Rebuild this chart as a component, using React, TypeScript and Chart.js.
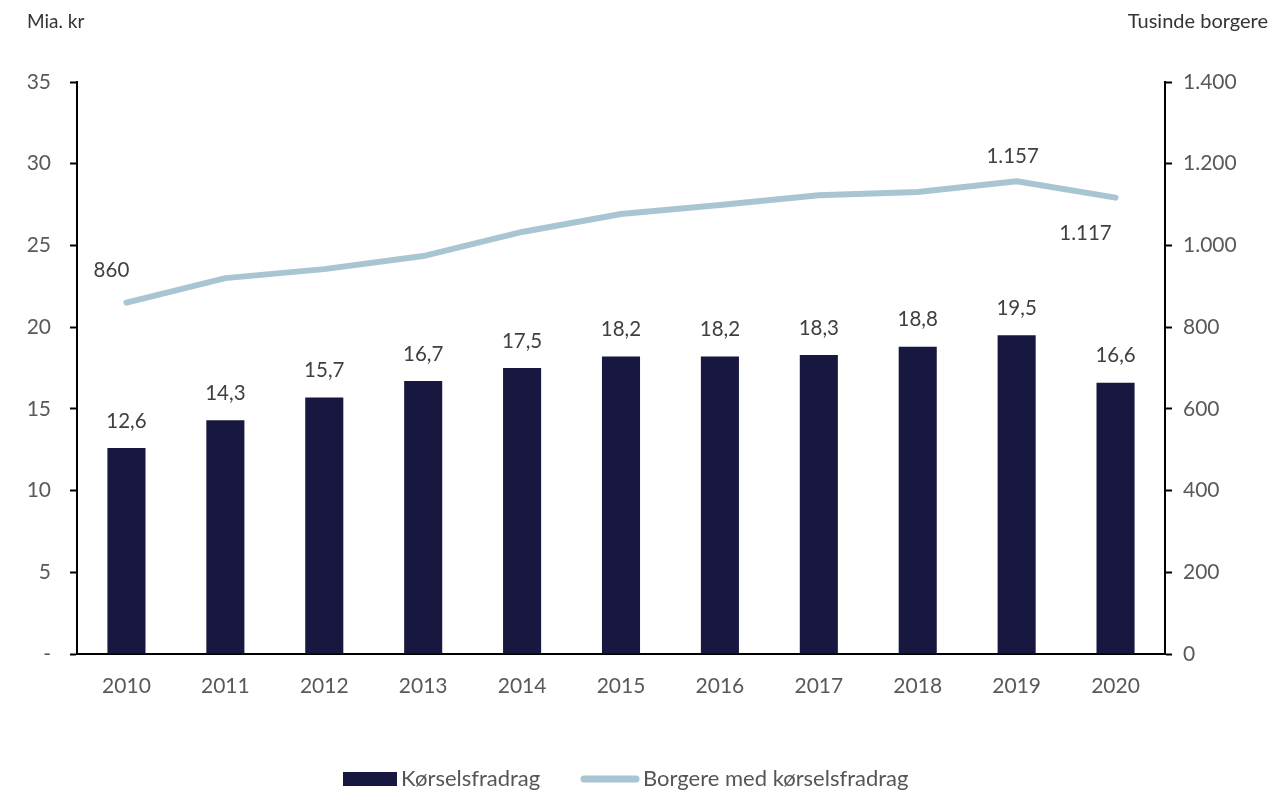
import React, { useEffect, useRef } from "react";
import { Chart, registerables } from "chart.js";

Chart.register(...registerables);

const years = ["2010", "2011", "2012", "2013", "2014", "2015", "2016", "2017", "2018", "2019", "2020"];
const korselsfradrag = [12.6, 14.3, 15.7, 16.7, 17.5, 18.2, 18.2, 18.3, 18.8, 19.5, 16.6];
const borgere = [860, 920, 942, 974, 1033, 1077, 1099, 1123, 1131, 1157, 1117];
const leftTicks = [0, 5, 10, 15, 20, 25, 30, 35];
const rightTicks = [0, 200, 400, 600, 800, 1000, 1200, 1400];
const barLabel = "Kørselsfradrag";
const lineLabel = "Borgere med kørselsfradrag";
const leftTitle = "Mia. kr";
const rightTitle = "Tusinde borgere";
const lineLabelIdx = [0, 9, 10];

const BAR_COLOR = "#17173f";
const LINE_COLOR = "#a8c5d4";
const TICK_COLOR = "#595959";
const LABEL_COLOR = "#404040";
const FONT = "Lato, 'Open Sans', sans-serif";

const fmtComma = (v: number) => v.toFixed(1).replace(".", ",");
const fmtThousands = (v: number) =>
  String(Math.round(v)).replace(/\B(?=(\d{3})+(?!\d))/g, ".");

export default function App() {
  const ref = useRef<HTMLCanvasElement | null>(null);

  useEffect(() => {
    const canvas = ref.current;
    if (!canvas) return;

    const labelsPlugin = {
      id: "customLabels",
      afterDatasetsDraw(chart: any) {
        const ctx = chart.ctx;
        ctx.save();
        ctx.font = `20.5px ${FONT}`;
        ctx.fillStyle = LABEL_COLOR;
        ctx.textAlign = "center";
        ctx.textBaseline = "middle";
        const barMeta = chart.getDatasetMeta(0);
        barMeta.data.forEach((el: any, i: number) => {
          ctx.fillText(fmtComma(korselsfradrag[i]), el.x, el.y - 27);
        });
        const lineMeta = chart.getDatasetMeta(1);
        lineLabelIdx.forEach((i) => {
          const el = lineMeta.data[i];
          const txt = fmtThousands(borgere[i]);
          if (i === 0) ctx.fillText(txt, el.x - 15, el.y - 32);
          else if (i === 10) ctx.fillText(txt, el.x - 30, el.y + 36);
          else ctx.fillText(txt, el.x - 4, el.y - 25);
        });
        ctx.restore();
      },
      afterDraw(chart: any) {
        const ctx = chart.ctx;
        ctx.save();
        ctx.fillStyle = "#333333";
        ctx.textBaseline = "middle";
        ctx.textAlign = "left";
        ctx.font = `19px ${FONT}`;
        ctx.fillText(leftTitle, 27, 22);
        ctx.textAlign = "right";
        ctx.font = `20px ${FONT}`;
        ctx.fillText(rightTitle, 1268, 22);

        // legend
        const y = 779;
        ctx.fillStyle = BAR_COLOR;
        ctx.fillRect(343, y - 7, 54, 14);
        ctx.font = `22px ${FONT}`;
        ctx.fillStyle = "#555555";
        ctx.textAlign = "left";
        ctx.fillText(barLabel, 401, y);
        ctx.strokeStyle = LINE_COLOR;
        ctx.lineWidth = 7;
        ctx.lineCap = "round";
        ctx.beginPath();
        ctx.moveTo(584, y);
        ctx.lineTo(636, y);
        ctx.stroke();
        ctx.fillStyle = "#555555";
        ctx.fillText(lineLabel, 643, y);
        ctx.restore();
      },
    };

    const chart = new Chart(canvas, {
      type: "bar",
      data: {
        labels: years,
        datasets: [
          {
            type: "bar",
            label: barLabel,
            data: korselsfradrag,
            backgroundColor: BAR_COLOR,
            yAxisID: "y",
            barPercentage: 0.385,
            categoryPercentage: 1,
            order: 2,
          },
          {
            type: "line",
            label: lineLabel,
            data: borgere,
            borderColor: LINE_COLOR,
            backgroundColor: LINE_COLOR,
            borderWidth: 6,
            pointRadius: 0,
            tension: 0,
            borderCapStyle: "round",
            borderJoinStyle: "round",
            yAxisID: "y1",
            order: 1,
          },
        ],
      } as any,
      options: {
        responsive: false,
        animation: false,
        layout: { padding: { top: 82, left: 0, right: 0, bottom: 0 } },
        plugins: {
          legend: { display: false },
          tooltip: { enabled: false },
          title: { display: false },
        },
        scales: {
          x: {
            grid: { display: false },
            border: { display: true, color: "#000000", width: 2 },
            ticks: {
              color: TICK_COLOR,
              font: { size: 21, family: FONT },
              padding: 12,
              maxRotation: 0,
            },
            afterFit(scale: any) {
              scale.height = 158;
            },
          },
          y: {
            position: "left",
            min: 0,
            max: 35,
            afterBuildTicks(scale: any) {
              scale.ticks = leftTicks.map((v) => ({ value: v }));
            },
            grid: {
              display: true,
              drawOnChartArea: false,
              drawTicks: true,
              tickLength: 7,
              tickColor: "#000000",
              tickWidth: 2,
            },
            border: { display: true, color: "#000000", width: 2 },
            ticks: {
              color: TICK_COLOR,
              font: { size: 21, family: FONT },
              padding: 19,
              callback: (v: any) => (v === 0 ? "-" : String(v)),
            },
            afterFit(scale: any) {
              scale.width = 77;
            },
          },
          y1: {
            position: "right",
            min: 0,
            max: 1400,
            afterBuildTicks(scale: any) {
              scale.ticks = rightTicks.map((v) => ({ value: v }));
            },
            grid: {
              display: true,
              drawOnChartArea: false,
              drawTicks: true,
              tickLength: 7,
              tickColor: "#000000",
              tickWidth: 2,
            },
            border: { display: true, color: "#000000", width: 2 },
            ticks: {
              color: TICK_COLOR,
              font: { size: 21, family: FONT },
              padding: 11,
              callback: (v: any) => fmtThousands(Number(v)),
            },
            afterFit(scale: any) {
              scale.width = 116;
            },
          },
        },
      } as any,
      plugins: [labelsPlugin],
    });

    return () => chart.destroy();
  }, []);

  return (
    <div style={{ position: "fixed", left: 0, top: 0, width: 1281, height: 812, background: "#fff" }}>
      <canvas ref={ref} width={1281} height={812} style={{ display: "block", width: 1281, height: 812 }} />
    </div>
  );
}
